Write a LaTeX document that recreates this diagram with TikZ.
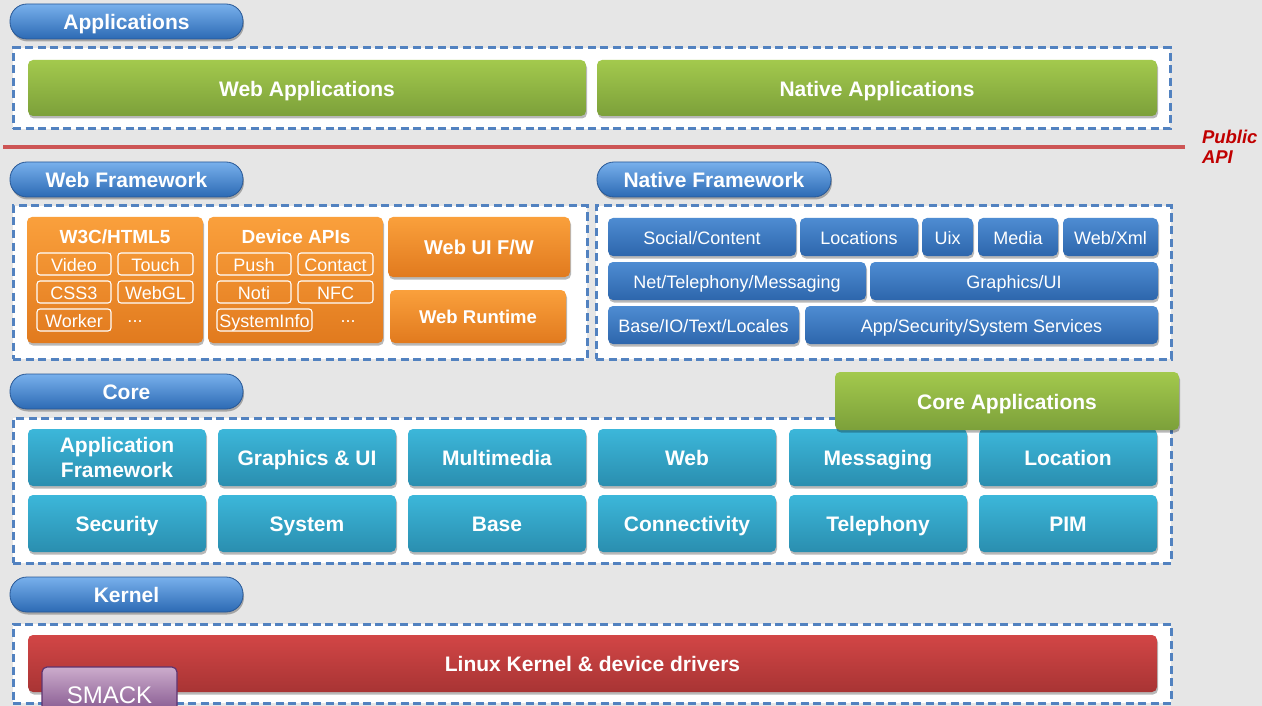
\documentclass[tikz,border=0pt]{standalone}
\usepackage{fontspec}
\setmainfont{Liberation Sans}
\usetikzlibrary{shadows}
\definecolor{bgc}{RGB}{230,230,230}
\definecolor{dashc}{RGB}{82,130,192}
\definecolor{pillT}{RGB}{120,176,236}
\definecolor{pillB}{RGB}{44,106,180}
\definecolor{pillD}{RGB}{40,88,150}
\definecolor{grnT}{RGB}{163,201,77}
\definecolor{grnB}{RGB}{124,160,58}
\definecolor{orgT}{RGB}{250,160,60}
\definecolor{orgB}{RGB}{225,122,30}
\definecolor{natT}{RGB}{78,140,210}
\definecolor{natB}{RGB}{45,102,172}
\definecolor{tealT}{RGB}{60,183,218}
\definecolor{tealB}{RGB}{42,142,175}
\definecolor{redT}{RGB}{210,70,70}
\definecolor{redB}{RGB}{168,52,52}
\definecolor{apired}{RGB}{192,0,0}
\definecolor{apiline}{RGB}{205,85,85}
\definecolor{smT}{RGB}{204,172,204}
\definecolor{smB}{RGB}{120,72,132}
\definecolor{smD}{RGB}{94,51,112}
\newcommand\bigtxt{\fontsize{21}{23}\selectfont\bfseries}
\newcommand\midtxt{\fontsize{19}{21}\selectfont\bfseries}
\newcommand\smtxt{\fontsize{18}{20}\selectfont}
\newcommand\mybox[7]{\node[#1, minimum width={#5-#3}, minimum height={#6-#4}] (#2) at ({(#3+#5)/2},{(#4+#6)/2}) {#7};}
\tikzset{
  base/.style={inner sep=0pt, outer sep=0pt, align=center},
  oneline/.style={text height=#1, text depth=0pt},
  shad/.style={drop shadow={shadow xshift=1pt, shadow yshift=-2.5pt, opacity=0.28, fill=black}},
  pill/.style={base, oneline=16.5pt, shad, rounded corners=17pt, top color=pillT, bottom color=pillB, draw=pillD, line width=0.8pt, text=white, font=\bigtxt},
  dashbox/.style={base, fill=white, draw=dashc, line width=3pt, dash pattern=on 8pt off 4.5pt},
  grnbox/.style={base, oneline=16.5pt, shad, rounded corners=5pt, top color=grnT, bottom color=grnB, text=white, font=\bigtxt},
  orgbox/.style={base, oneline=15.1pt, shad, rounded corners=5pt, top color=orgT, bottom color=orgB, text=white, font=\midtxt},
  subbox/.style={base, oneline=14.4pt, rounded corners=3pt, draw=white, line width=1.1pt, text=white, font=\smtxt},
  plain/.style={base, text=white, font=\smtxt},
  natbox/.style={base, oneline=14.4pt, shad, rounded corners=5pt, top color=natT, bottom color=natB, text=white, font=\smtxt},
  tealbox/.style={base, shad, rounded corners=5pt, top color=tealT, bottom color=tealB, text=white, font=\bigtxt},
  tealone/.style={tealbox, oneline=16.5pt},
  redbox/.style={base, oneline=16.5pt, shad, rounded corners=5pt, top color=redT, bottom color=redB, text=white, font=\bigtxt},
  smackbox/.style={base, oneline=18.7pt, rounded corners=5pt, top color=smT, bottom color=smB, draw=smD, line width=1.2pt, text=white, font=\fontsize{24}{26}\selectfont},
  apitxt/.style={base, anchor=west, align=left, text=apired, font=\fontsize{18.5}{20}\selectfont\bfseries\itshape},
}
\begin{document}
\begin{tikzpicture}[x=1pt,y=-1pt]
\fill[bgc] (0,0) rectangle (1262,706);
\useasboundingbox (0,0) rectangle (1262,706);
% Applications
\mybox{pill}{appP}{10}{4}{243}{39}{Applications}
\mybox{dashbox}{appD}{13}{48}{1170}{129}{}
\mybox{grnbox}{webA}{28}{60}{586}{116}{Web Applications}
\mybox{grnbox}{natA}{597}{60}{1157}{116}{Native Applications}
% Public API line
\coordinate (apiL) at (3,147);
\coordinate (apiR) at (1185,147);
\draw[apiline, line width=3.2pt, drop shadow={shadow xshift=0pt, shadow yshift=-2pt, opacity=0.2}] (apiL) -- (apiR);
\node[apitxt] (api) at (1202,147) {Public\\[0pt]API};
% Web Framework
\mybox{pill}{wfP}{10}{162}{243}{197}{Web Framework}
\mybox{dashbox}{wfD}{13}{206}{587}{359}{}
\mybox{orgbox}{w3c}{27}{217}{203}{343}{}
\node[base, oneline=15.1pt, text=white, font=\midtxt] (w3cT) at (115,236) {W3C/HTML5};
\mybox{subbox}{video}{37}{253}{111}{275}{Video}
\mybox{subbox}{touch}{118}{253}{193}{275}{Touch}
\mybox{subbox}{css}{37}{281}{111}{303}{CSS3}
\mybox{subbox}{webgl}{118}{281}{193}{303}{WebGL}
\mybox{subbox}{worker}{37}{309}{111}{331}{Worker}
\node[plain] (dotsA) at (135,322) {...};
\mybox{orgbox}{dev}{208}{217}{383}{343}{}
\node[base, oneline=15.1pt, text=white, font=\midtxt] (devT) at (296,236) {Device APIs};
\mybox{subbox}{push}{217}{253}{291}{275}{Push}
\mybox{subbox}{contact}{298}{253}{373}{275}{Contact}
\mybox{subbox}{noti}{217}{281}{291}{303}{Noti}
\mybox{subbox}{nfc}{298}{281}{373}{303}{NFC}
\mybox{subbox}{sysinfo}{217}{309}{312}{331}{SystemInfo}
\node[plain] (dotsB) at (348,322) {...};
\mybox{orgbox, oneline=15.8pt}{webui}{388}{217}{570}{277}{\fontsize{20}{22}\selectfont Web UI F/W}
\mybox{orgbox, oneline=14.7pt}{webrt}{390}{290}{566}{343}{\fontsize{18.5}{21}\selectfont Web Runtime}
% Native Framework
\mybox{pill}{nfP}{597}{162}{831}{197}{Native Framework}
\mybox{dashbox}{nfD}{596}{206}{1171}{359}{}
\mybox{natbox}{social}{608}{218}{796}{256}{Social/Content}
\mybox{natbox}{locs}{800}{218}{918}{256}{Locations}
\mybox{natbox}{uix}{922}{218}{973}{256}{Uix}
\mybox{natbox}{media}{978}{218}{1058}{256}{Media}
\mybox{natbox}{webxml}{1063}{218}{1158}{256}{Web/Xml}
\mybox{natbox}{net}{608}{262}{866}{300}{Net/Telephony/Messaging}
\mybox{natbox}{gfx}{870}{262}{1158}{300}{Graphics/UI}
\mybox{natbox}{baseio}{608}{306}{799}{344}{Base/IO/Text/Locales}
\mybox{natbox}{appsec}{805}{306}{1158}{344}{App/Security/System Services}
% Core
\mybox{pill}{coreP}{10}{374}{243}{409}{Core}
\mybox{dashbox}{coreD}{13}{418}{1171}{563}{}
\mybox{tealbox}{appfw}{28}{429}{206}{486}{Application\\[2pt]Framework}
\mybox{tealone}{gui}{218}{429}{396}{486}{Graphics \& UI}
\mybox{tealone}{mm}{408}{429}{586}{486}{Multimedia}
\mybox{tealone}{web}{598}{429}{776}{486}{Web}
\mybox{tealone}{msg}{789}{429}{967}{486}{Messaging}
\mybox{tealone}{loc}{979}{429}{1157}{486}{Location}
\mybox{tealone}{sec}{28}{495}{206}{552}{Security}
\mybox{tealone}{sys}{218}{495}{396}{552}{System}
\mybox{tealone}{basec}{408}{495}{586}{552}{Base}
\mybox{tealone}{conn}{598}{495}{776}{552}{Connectivity}
\mybox{tealone}{tel}{789}{495}{967}{552}{Telephony}
\mybox{tealone}{pim}{979}{495}{1157}{552}{PIM}
\mybox{grnbox}{coreA}{835}{372}{1179}{430}{Core Applications}
% Kernel
\mybox{pill}{kerP}{10}{577}{243}{612}{Kernel}
\mybox{dashbox}{kerD}{13}{624}{1171}{703}{}
\mybox{redbox}{linux}{28}{635}{1157}{692}{Linux Kernel \& device drivers}
\mybox{smackbox}{smack}{42}{667}{177}{721}{SMACK}
\end{tikzpicture}
\end{document}
